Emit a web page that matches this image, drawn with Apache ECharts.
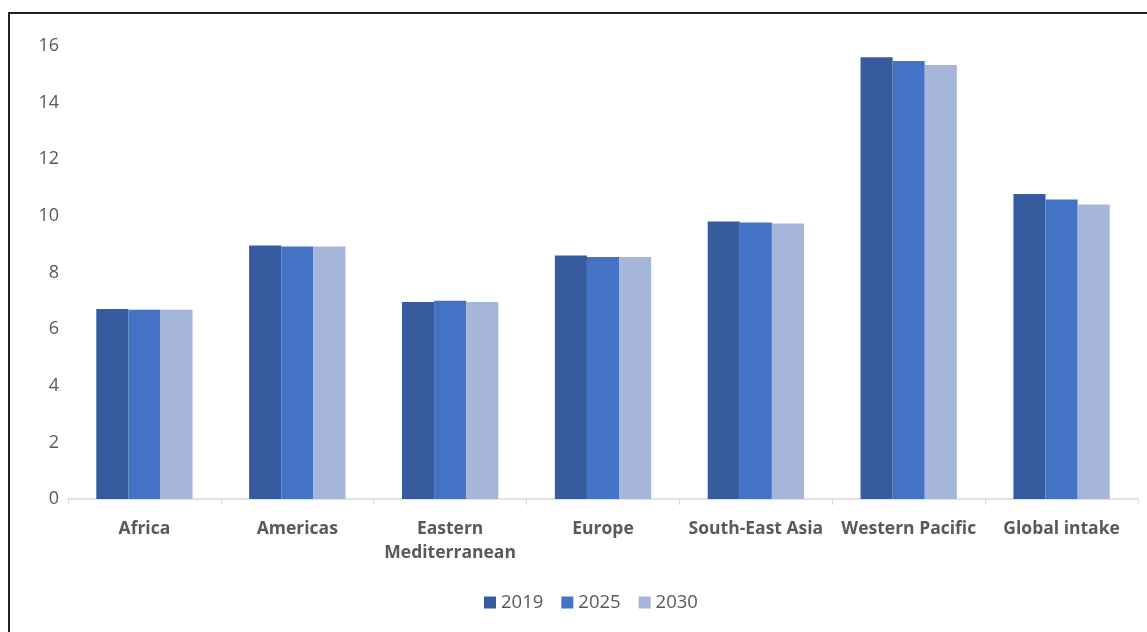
<!DOCTYPE html>
<html>
<head>
<meta charset="utf-8">
<script src="https://cdn.jsdelivr.net/npm/echarts@6/dist/echarts.min.js"></script>
<style>
  html, body { margin: 0; padding: 0; background: #fff; }
  #frame { position: absolute; left: 8px; top: 12px; width: 1200px; height: 700px;
           border-top: 2px solid #222; border-left: 2px solid #222; }
  #chart { position: absolute; left: 0; top: 0; width: 1147px; height: 632px; }
</style>
</head>
<body>
<div id="frame"></div>
<div id="chart"></div>
<script>
// regions on the x axis
var regions = ['Africa', 'Americas', 'Eastern\nMediterranean', 'Europe', 'South-East Asia', 'Western Pacific', 'Global intake'];
var years = ['2019', '2025', '2030'];

// values
var v2019 = [6.71, 8.95, 6.96, 8.60, 9.80, 15.60, 10.77];
var v2025 = [6.68, 8.92, 7.00, 8.55, 9.77, 15.47, 10.58];
var v2030 = [6.68, 8.92, 6.96, 8.55, 9.73, 15.33, 10.40];

var colors = ['#365c9f', '#4472c4', '#a6b5da'];

var myChart = echarts.init(document.getElementById('chart'));

option = {
  color: colors,
  animation: false,
  textStyle: { fontFamily: 'Open Sans' },
  legend: {
    data: years,
    bottom: 15,
    left: 479,
    itemWidth: 12,
    itemHeight: 12,
    itemGap: 18,
    icon: 'rect',
    textStyle: { fontSize: 18.5, color: '#595959', fontFamily: 'Open Sans' }
  },
  grid: {
    left: 68,
    right: 9,
    top: 46,
    bottom: 133
  },
  xAxis: {
    type: 'category',
    data: regions,
    axisLine: { lineStyle: { color: '#d9d9d9', width: 1.5 } },
    axisTick: { show: true, length: 6, lineStyle: { color: '#d9d9d9' } },
    axisLabel: {
      color: '#595959',
      fontSize: 17.5,
      fontWeight: 'bold',
      fontFamily: 'Open Sans',
      margin: 18,
      lineHeight: 24,
      interval: 0
    }
  },
  yAxis: {
    type: 'value',
    min: 0,
    max: 16,
    interval: 2,
    splitLine: { show: false },
    axisLine: { show: false },
    axisTick: { show: false },
    axisLabel: { color: '#595959', fontSize: 18, margin: 9 }
  },
  series: [
    { name: '2019', type: 'bar', data: v2019, barWidth: '21%', barGap: '0%' },
    { name: '2025', type: 'bar', data: v2025, barWidth: '21%', barGap: '0%' },
    { name: '2030', type: 'bar', data: v2030, barWidth: '21%', barGap: '0%' }
  ]
};

myChart.setOption(option);
</script>
</body>
</html>
